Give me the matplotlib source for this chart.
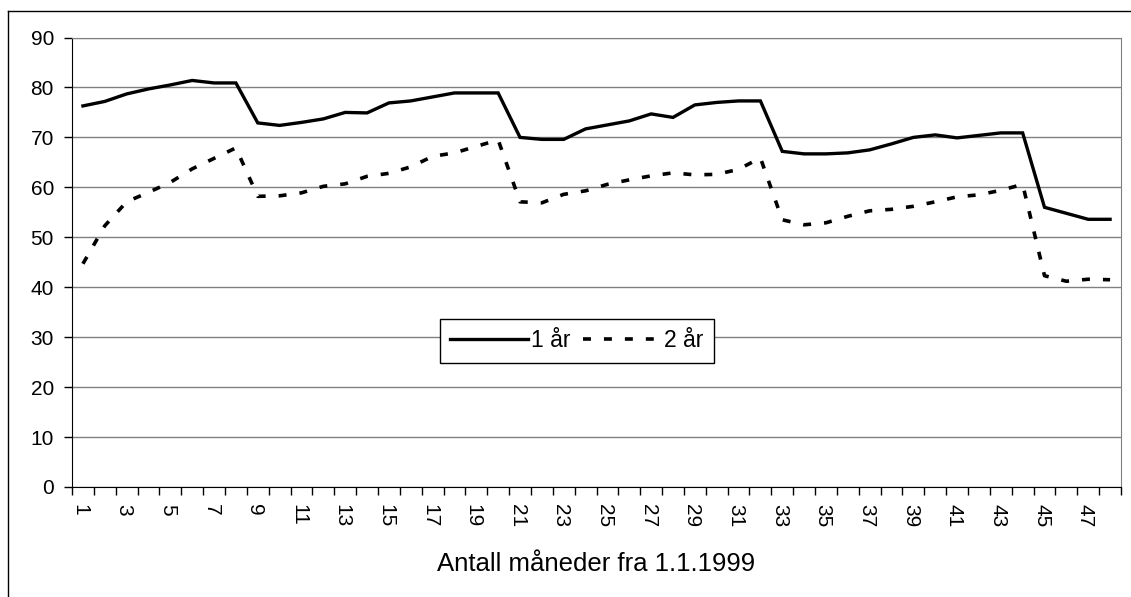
import matplotlib
matplotlib.use('Agg')
import matplotlib.pyplot as plt
import matplotlib.transforms as mtransforms
from matplotlib.lines import Line2D
import numpy as np

plt.rcParams['font.family'] = ['Liberation Sans', 'DejaVu Sans']

months = list(range(1, 49))

one_year = [76.3, 77.2, 78.7, 79.7, 80.5, 81.4, 80.9, 80.9, 72.9, 72.4,
            73.0, 73.7, 75.0, 74.9, 76.9, 77.3, 78.1, 78.9, 78.9, 78.9,
            70.0, 69.6, 69.6, 71.7, 72.5, 73.3, 74.7, 74.0, 76.5, 77.0,
            77.3, 77.3, 67.2, 66.7, 66.7, 66.9, 67.5, 68.7, 70.0, 70.5,
            69.9, 70.4, 70.9, 70.9, 56.0, 54.8, 53.6, 53.6]

two_year = [44.7, 52.3, 57.1, 59.0, 61.0, 63.7, 65.8, 67.9, 58.2, 58.3,
            58.9, 60.2, 60.7, 62.2, 62.8, 64.1, 66.2, 66.9, 68.2, 69.5,
            57.1, 56.9, 58.6, 59.3, 60.6, 61.5, 62.3, 62.9, 62.5, 62.6,
            63.6, 65.9, 53.5, 52.5, 52.9, 54.2, 55.3, 55.6, 56.2, 57.1,
            58.1, 58.5, 59.4, 60.6, 42.3, 41.2, 41.6, 41.5]

series_labels = ['1 år', '2 år']
x_label = 'Antall måneder fra 1.1.1999'
y_ticks = list(range(0, 100, 10))

W, H = 1131, 597
fig = plt.figure(figsize=(W / 100, H / 100), dpi=100)
ax = fig.add_axes([72 / W, (H - 487) / H, 1049 / W, 449.5 / H])

x = np.arange(len(months))
ax.plot(x, one_year, color='black', lw=2.4, solid_joinstyle='miter',
        label=series_labels[0])
ax.plot(x, two_year, color='black', lw=2.6, linestyle=(0, (2.2, 3.6)),
        dash_capstyle='butt', label=series_labels[1])

ax.set_xlim(-0.5, len(months) - 0.5)
ax.set_ylim(0, 90)
ax.set_yticks(y_ticks)
ax.tick_params(axis='y', labelsize=15, length=6, width=1, direction='out', pad=7)
ax.yaxis.grid(True, color='#808080', lw=1)
ax.set_axisbelow(True)

# category axis: tick marks between categories, labels on every other one
ax.set_xticks(np.arange(len(months) + 1) - 0.5)
ax.set_xticklabels([])
ax.set_xticks(x[::2], minor=True)
ax.set_xticklabels([str(m) for m in months[::2]], minor=True, rotation=-90,
                   fontsize=15)
ax.tick_params(axis='x', which='major', length=6, width=1, direction='out')
ax.tick_params(axis='x', which='minor', length=0, pad=12)
shift = mtransforms.ScaledTranslation(-3 / 100, 0, fig.dpi_scale_trans)
for lbl in ax.get_xticklabels(minor=True):
    lbl.set_transform(lbl.get_transform() + shift)
ax.set_xlabel(x_label, fontsize=18.5, labelpad=18)

for side in ['top', 'right']:
    ax.spines[side].set_color('#808080')
ax.spines['left'].set_color('black')
ax.spines['bottom'].set_color('black')

leg = ax.legend(loc='center', bbox_to_anchor=(0.481, 0.325), ncol=2,
                fontsize=16.5, frameon=True, fancybox=False, framealpha=1,
                edgecolor='black', handlelength=3.4, handletextpad=0.13,
                columnspacing=0.55, borderpad=0.45, borderaxespad=0)
leg.get_frame().set_linewidth(1)

# outer chart border (only left and top are inside the picture)
fig.add_artist(Line2D([7.5 / W, 7.5 / W], [0, 1 - 11 / H], color='black', lw=1))
fig.add_artist(Line2D([7.5 / W, 1], [1 - 11 / H, 1 - 11 / H], color='black', lw=1))

fig.savefig('out.png', dpi=100)
